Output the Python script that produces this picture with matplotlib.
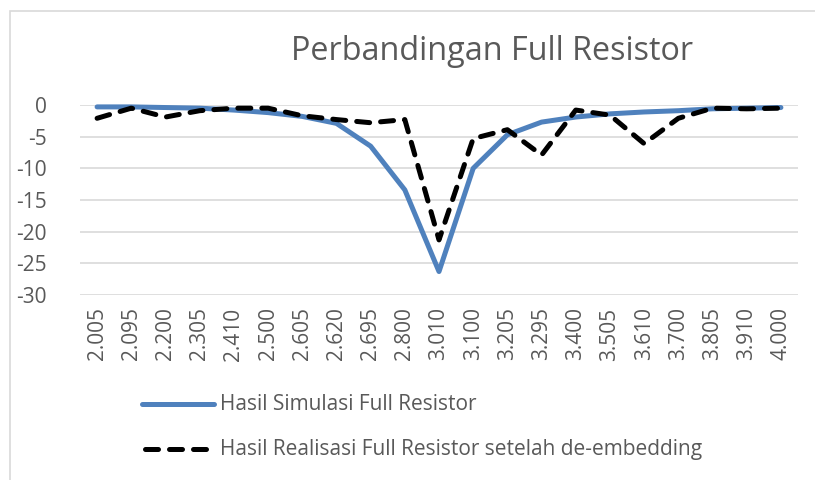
import matplotlib
matplotlib.use('Agg')
import matplotlib.pyplot as plt
from matplotlib.lines import Line2D
from matplotlib.patches import Rectangle

plt.rcParams['font.family'] = ['Open Sans', 'DejaVu Sans']

# frekuensi (GHz) sebagai kategori
freq_labels = ['2.005', '2.095', '2.200', '2.305', '2.410', '2.500', '2.605',
               '2.620', '2.695', '2.800', '3.010', '3.100', '3.205', '3.295',
               '3.400', '3.505', '3.610', '3.700', '3.805', '3.910', '4.000']

# S11 (dB)
simulasi = [-0.3, -0.3, -0.4, -0.5, -0.8, -1.2, -1.8, -2.9, -6.5, -13.4, -26.3,
            -10.0, -4.7, -2.7, -1.9, -1.4, -1.1, -0.9, -0.6, -0.5, -0.4]
realisasi = [-2.1, -0.5, -1.9, -0.9, -0.5, -0.5, -1.7, -2.3, -2.8, -2.3, -21.3,
             -5.3, -3.9, -7.9, -0.8, -1.6, -6.1, -2.1, -0.5, -0.6, -0.5]

text_color = '#595959'
blue = '#4f81bd'
lw = 3.6
dash = (2.6, 2.2)

fig = plt.figure(figsize=(8.15, 4.8), dpi=100)
ax = fig.add_axes([80 / 815, 1 - 295 / 480, 718 / 815, 190 / 480])

x = list(range(len(freq_labels)))
ax.plot(x, simulasi, color=blue, lw=lw, solid_capstyle='round', solid_joinstyle='round',
        clip_on=False, zorder=3)
ax.plot(x, realisasi, color='black', lw=lw, dashes=dash, dash_capstyle='round',
        clip_on=False, zorder=4)

ax.set_xlim(-0.5, len(freq_labels) - 0.5)
ax.set_ylim(-30, 0)
ax.set_yticks([0, -5, -10, -15, -20, -25, -30])
ax.set_yticklabels(['0', '-5', '-10', '-15', '-20', '-25', '-30'])
ax.set_xticks(x)
ax.set_xticklabels(freq_labels, rotation=90)
ax.tick_params(axis='both', length=0, labelsize=15, labelcolor=text_color)
ax.tick_params(axis='y', pad=24)
ax.tick_params(axis='x', pad=9)
ax.grid(axis='y', color='#d9d9d9', lw=1.2)
ax.set_axisbelow(True)
for s in ax.spines.values():
    s.set_visible(False)

fig.text(492 / 815, 1 - 51 / 480, 'Perbandingan Full Resistor', ha='center', va='center',
         fontsize=23.3, color=text_color)

# legenda manual seperti Excel
fig.add_artist(Line2D([142 / 815, 214 / 815], [1 - 404 / 480] * 2, color=blue, lw=lw,
                      solid_capstyle='round'))
fig.add_artist(Line2D([145 / 815, 206 / 815], [1 - 449 / 480] * 2, color='black', lw=lw,
                      dashes=dash, dash_capstyle='round'))
fig.text(220 / 815, 1 - 405 / 480, 'Hasil Simulasi Full Resistor', ha='left', va='center',
         fontsize=15, color=text_color)
fig.text(220 / 815, 1 - 450 / 480, 'Hasil Realisasi Full Resistor setelah de-embedding',
         ha='left', va='center', fontsize=15, color=text_color)

# bingkai chart
fig.add_artist(Rectangle((10 / 815, -0.1), 1.2, 1 - 11 / 480 + 0.1, transform=fig.transFigure,
                         fill=False, edgecolor='#d9d9d9', lw=1.2))

fig.savefig('out.png', dpi=100)
